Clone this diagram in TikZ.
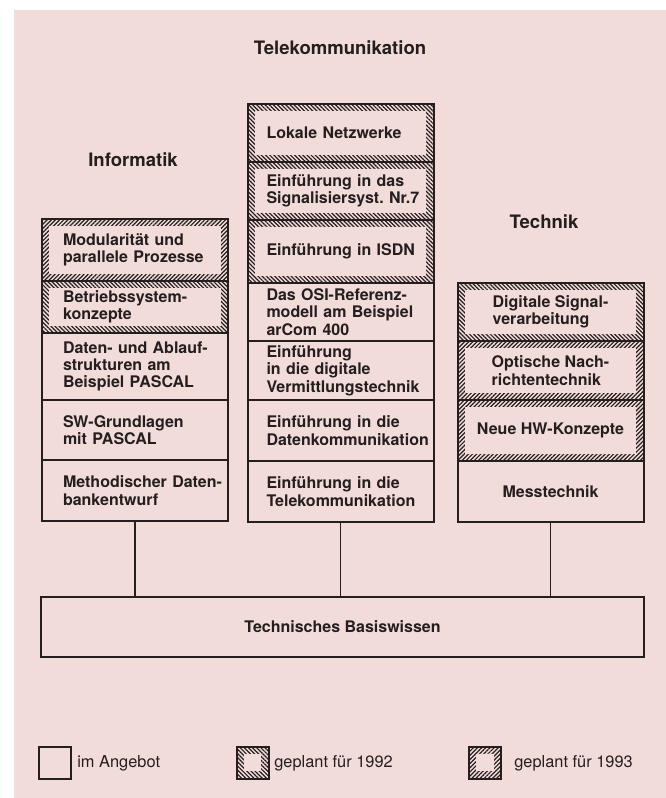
\documentclass[tikz,border=0pt]{standalone}
\usepackage{fontspec}
\setmainfont{TeX Gyre Heros}
\usepackage{xcolor}
\usepackage{tikz}
\usetikzlibrary{patterns.meta}
\definecolor{KSRosa}{HTML}{F2DCDA}
\definecolor{KSInk}{HTML}{241E1F}
\newcommand\kursschrift{\fontsize{12}{13}\selectfont\bfseries\hyphenpenalty=10000\exhyphenpenalty=10000}
\newcommand\titelschrift{\fontsize{13.9}{16}\selectfont\bfseries}
\newcommand\legendenschrift{\fontsize{12.3}{14}\selectfont}

\begin{document}
\begin{tikzpicture}[x=0.75pt,y=-0.75pt,
  kurs/.style={draw=KSInk,line width=1.5pt,minimum width=139.5pt,inner xsep=0pt,inner ysep=0pt,font=\kursschrift,text=KSInk},
  h/.style={minimum height=#1*0.75pt},
  links/.style={text width=108pt,align=left},
  mitte/.style={text width=111pt,align=left},
  rechts/.style={align=left},
  band/.style={path picture={\fill[KSRosa] ([xshift=5.5pt,yshift=-5.5pt]path picture bounding box.north west) rectangle ([xshift=-5.5pt,yshift=5.5pt]path picture bounding box.south east);}},
  j92/.style={pattern={Lines[angle=-45,distance=2.2pt,line width=0.9pt]},pattern color=KSInk,band},
  j93/.style={pattern={Lines[angle=45,distance=2.2pt,line width=0.9pt]},pattern color=KSInk,band},
  titel/.style={font=\titelschrift,text=KSInk},
  verbinder/.style={draw=KSInk,line width=0.9pt},
  legende/.style={draw=KSInk,line width=1.5pt,minimum size=24pt,inner sep=0pt},
  legtext/.style={anchor=base west,font=\legendenschrift,text=KSInk,inner sep=0pt}]
\path[use as bounding box] (0,0) rectangle (666,798);
\fill[KSRosa] (14,10) rectangle (666,798);

\node[titel] (telTitel) at (340,48) {Telekommunikation};
\node[titel] (infTitel) at (133,160) {Informatik};
\node[titel] (tecTitel) at (544,222) {Technik};

\node[kurs,links,j93,h=62] (inf1) at (135,250) {Modularität~und\\parallele~Prozesse};
\node[kurs,links,j92,h=52] (inf2) at (135,307) {Betriebssystem-\\konzepte};
\node[kurs,links,h=67] (inf3) at (135,366.5) {Daten-~und~Ablauf-\\strukturen~am\\Beispiel~PASCAL};
\node[kurs,links,h=60] (inf4) at (135,430) {SW-Grundlagen\\mit~PASCAL};
\node[kurs,links,h=61] (inf5) at (135,490.5) {Methodischer~Daten-\\bankentwurf};

\node[kurs,mitte,j92,h=58] (tel1) at (340.5,133) {Lokale~Netzwerke};
\node[kurs,mitte,j92,h=58] (tel2) at (340.5,191) {Einführung~in~das\\Signalisiersyst.~Nr.7};
\node[kurs,mitte,j92,h=63] (tel3) at (340.5,251.5) {Einführung~in~ISDN};
\node[kurs,mitte,h=58] (tel4) at (340.5,312) {Das~OSI-Referenz-\\modell~am~Beispiel\\arCom~400};
\node[kurs,mitte,h=59] (tel5) at (340.5,370.5) {Einführung\\in~die~digitale\\Vermittlungstechnik};
\node[kurs,mitte,h=61] (tel6) at (340.5,430.5) {Einführung~in~die\\Datenkommunikation};
\node[kurs,mitte,h=61] (tel7) at (340.5,491.5) {Einführung~in~die\\Telekommunikation};

\node[kurs,rechts,j92,h=58] (tec1) at (550.5,312) {Digitale Signal-\\verarbeitung};
\node[kurs,rechts,j93,h=59] (tec2) at (550.5,370.5) {Optische Nach-\\richtentechnik};
\node[kurs,rechts,j93,h=61] (tec3) at (550.5,430.5) {Neue HW-Konzepte};
\node[kurs,rechts,h=61] (tec4) at (550.5,491.5) {Messtechnik};

\node[kurs,h=60,minimum width=452.25pt] (basis) at (342.5,627) {Technisches Basiswissen};

\draw[verbinder] (inf5.south) -- (inf5.south |- basis.north);
\draw[verbinder] (tel7.south) -- (tel7.south |- basis.north);
\draw[verbinder] (tec4.south) -- (tec4.south |- basis.north);

\node[legende] (legAngebot) at (55,762.5) {};
\node[legtext] (txtAngebot) at (77,767) {im Angebot};
\node[legende,j92] (leg92) at (252.5,762.5) {};
\node[legtext] (txt92) at (274,767) {geplant für 1992};
\node[legende,j93] (leg93) at (485,762.5) {};
\node[legtext] (txt93) at (514,767) {geplant für 1993};
\end{tikzpicture}
\end{document}
